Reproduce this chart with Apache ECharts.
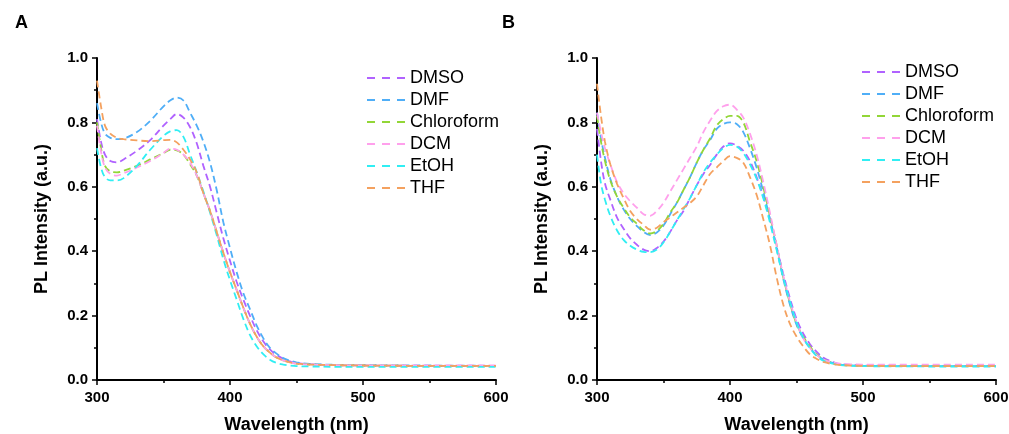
<!DOCTYPE html>
<html><head><meta charset="utf-8">
<script src="https://cdn.jsdelivr.net/npm/echarts@6/dist/echarts.min.js"></script>
<style>html,body{margin:0;padding:0;background:#fff}#c{width:1009px;height:434px}</style>
</head><body><div id="c"></div>
<script>
const seriesNames = ['DMSO','DMF','Chloroform','DCM','EtOH','THF'];
const xTicks = [300,400,500,600];
const yTicks = ['0.0','0.2','0.4','0.6','0.8','1.0'];

// Panel A
const wlA = [300,303,306,310,315,320,330,340,350,355,360,365,370,375,380,385,390,395,400,405,410,415,420,425,430,435,440,445,450,460,480,500,550,600];
const dmsoA  = [0.81,0.74,0.70,0.68,0.676,0.685,0.712,0.745,0.79,0.81,0.826,0.815,0.785,0.735,0.665,0.60,0.52,0.44,0.37,0.305,0.25,0.20,0.155,0.12,0.095,0.078,0.066,0.058,0.053,0.049,0.046,0.045,0.044,0.044];
const dmfA   = [0.86,0.80,0.765,0.752,0.748,0.75,0.77,0.805,0.85,0.868,0.877,0.868,0.83,0.79,0.74,0.675,0.59,0.49,0.41,0.335,0.27,0.22,0.17,0.13,0.10,0.082,0.068,0.06,0.055,0.05,0.047,0.046,0.045,0.044];
const chloroA= [0.80,0.72,0.665,0.648,0.645,0.65,0.665,0.685,0.705,0.715,0.713,0.70,0.67,0.635,0.58,0.525,0.46,0.395,0.335,0.28,0.225,0.175,0.135,0.105,0.085,0.07,0.061,0.055,0.051,0.048,0.046,0.045,0.044,0.044];
const dcmA   = [0.79,0.71,0.66,0.64,0.635,0.642,0.66,0.68,0.705,0.718,0.715,0.70,0.675,0.635,0.58,0.525,0.46,0.395,0.335,0.28,0.225,0.175,0.135,0.105,0.085,0.07,0.061,0.055,0.051,0.048,0.046,0.045,0.045,0.045];
const etohA  = [0.72,0.66,0.63,0.62,0.62,0.627,0.665,0.715,0.758,0.772,0.776,0.755,0.70,0.645,0.585,0.52,0.45,0.375,0.31,0.25,0.19,0.14,0.105,0.08,0.063,0.053,0.048,0.045,0.043,0.042,0.041,0.041,0.041,0.041];
const thfA   = [0.93,0.85,0.79,0.765,0.752,0.748,0.744,0.742,0.745,0.746,0.738,0.715,0.685,0.645,0.58,0.525,0.46,0.395,0.335,0.28,0.225,0.175,0.135,0.105,0.085,0.07,0.061,0.055,0.051,0.048,0.046,0.045,0.044,0.044];

// Panel B
const wlB = [300,303,306,310,315,320,325,330,335,340,345,350,355,360,365,370,375,380,385,390,395,400,405,410,415,420,425,430,435,440,445,450,455,460,465,470,480,490,500,550,600];
const dmsoB  = [0.78,0.68,0.61,0.56,0.505,0.47,0.44,0.42,0.405,0.40,0.41,0.43,0.46,0.495,0.525,0.565,0.605,0.64,0.668,0.70,0.725,0.735,0.728,0.712,0.68,0.63,0.57,0.50,0.415,0.33,0.255,0.19,0.145,0.112,0.088,0.07,0.052,0.047,0.045,0.044,0.044];
const dmfB   = [0.83,0.75,0.69,0.625,0.57,0.53,0.50,0.478,0.46,0.45,0.458,0.48,0.515,0.55,0.59,0.63,0.675,0.715,0.745,0.78,0.795,0.80,0.795,0.77,0.72,0.66,0.585,0.50,0.41,0.315,0.235,0.172,0.13,0.10,0.078,0.064,0.05,0.046,0.044,0.043,0.043];
const chloroB= [0.82,0.74,0.68,0.62,0.57,0.535,0.505,0.485,0.465,0.455,0.463,0.485,0.52,0.55,0.59,0.63,0.675,0.715,0.75,0.79,0.81,0.82,0.82,0.80,0.74,0.68,0.60,0.51,0.42,0.32,0.24,0.175,0.135,0.105,0.08,0.065,0.05,0.046,0.045,0.044,0.044];
const dcmB   = [0.83,0.77,0.72,0.67,0.615,0.58,0.555,0.535,0.515,0.51,0.525,0.55,0.585,0.62,0.655,0.69,0.725,0.77,0.805,0.835,0.85,0.855,0.84,0.815,0.765,0.70,0.615,0.52,0.42,0.325,0.245,0.18,0.13,0.10,0.078,0.064,0.052,0.049,0.048,0.048,0.048];
const etohB  = [0.70,0.61,0.56,0.51,0.465,0.435,0.417,0.405,0.398,0.397,0.405,0.427,0.46,0.495,0.53,0.565,0.605,0.645,0.675,0.70,0.72,0.73,0.725,0.705,0.67,0.625,0.565,0.49,0.405,0.32,0.245,0.18,0.132,0.10,0.075,0.06,0.048,0.044,0.043,0.042,0.042];
const thfB   = [0.92,0.82,0.74,0.67,0.61,0.565,0.525,0.50,0.482,0.467,0.473,0.49,0.505,0.52,0.535,0.55,0.57,0.605,0.64,0.66,0.68,0.695,0.69,0.675,0.63,0.575,0.50,0.42,0.32,0.235,0.175,0.135,0.105,0.08,0.066,0.056,0.048,0.045,0.044,0.043,0.043];

const colors = ['#B062FF','#4FAEF7','#92D637','#FFA0EC','#30EEF3','#F4A15F'];
const dataA = [dmsoA,dmfA,chloroA,dcmA,etohA,thfA];
const dataB = [dmsoB,dmfB,chloroB,dcmB,etohB,thfB];

const FONT = 'Liberation Sans, Arial, sans-serif';
function zip(xs, ys){ return xs.map((x,i)=>[x, ys[i]]); }

function xAxisDef(gi){
  return {
    type:'value', gridIndex:gi, min:xTicks[0], max:xTicks[xTicks.length-1], interval:100,
    name:'Wavelength (nm)', nameLocation:'middle', nameGap:36,
    nameTextStyle:{fontFamily:FONT, fontWeight:'bold', fontSize:18, color:'#000'},
    axisLine:{show:true, onZero:false, lineStyle:{color:'#000', width:2}},
    axisTick:{show:true, inside:false, length:5, lineStyle:{color:'#000', width:1.5}},
    minorTick:{show:true, splitNumber:2, length:3, lineStyle:{color:'#000', width:1.5}},
    axisLabel:{fontFamily:FONT, fontWeight:'bold', fontSize:15, color:'#000', margin:10},
    splitLine:{show:false}
  };
}
function yAxisDef(gi){
  return {
    type:'value', gridIndex:gi, min:0, max:1, interval:0.2,
    name:'PL Intensity (a.u.)', nameLocation:'middle', nameGap:46, nameRotate:90,
    nameTextStyle:{fontFamily:FONT, fontWeight:'bold', fontSize:18, color:'#000'},
    axisLine:{show:true, onZero:false, lineStyle:{color:'#000', width:2}},
    axisTick:{show:true, inside:false, length:5, lineStyle:{color:'#000', width:1.5}},
    minorTick:{show:true, splitNumber:2, length:3, lineStyle:{color:'#000', width:1.5}},
    axisLabel:{fontFamily:FONT, fontWeight:'bold', fontSize:15, color:'#000', margin:9,
      formatter:(v)=>yTicks[Math.round(v/0.2)]},
    splitLine:{show:false}
  };
}

const series = [];
[dataA, dataB].forEach((set, gi)=>{
  const wl = gi===0 ? wlA : wlB;
  set.forEach((ys, si)=>{
    series.push({
      name: seriesNames[si] + (gi===1 ? ' ' : ''),
      type:'line', xAxisIndex:gi, yAxisIndex:gi,
      data: zip(wl, ys), showSymbol:false, symbol:'none', smooth:0.35,
      lineStyle:{color:colors[si], width:1.8, type:[7,4]},
      itemStyle:{color:colors[si]},
      z: 2, silent:true, animation:false
    });
  });
});

function legendDef(left, top, suffix){
  return {
    orient:'vertical', left:left, top:top, itemWidth:38, itemHeight:18, itemGap:4,
    icon:'path://M0,0 L8,0 L8,2 L0,2 Z M15,0 L23,0 L23,2 L15,2 Z M30,0 L38,0 L38,2 L30,2 Z',
    data: seriesNames.map((n,i)=>({name:n+suffix, itemStyle:{color:colors[i]}})),
    textStyle:{fontFamily:FONT, fontSize:18, color:'#000', lineHeight:18},
    formatter:(n)=>n.trim(),
    selectedMode:false
  };
}

const chart = echarts.init(document.getElementById('c'), null, {renderer:'canvas'});
chart.setOption({
  backgroundColor:'#fff',
  animation:false,
  title:[
    {text:'A', left:10, top:9, textStyle:{fontFamily:FONT, fontWeight:'bold', fontSize:18, color:'#000'}},
    {text:'B', left:497, top:9, textStyle:{fontFamily:FONT, fontWeight:'bold', fontSize:18, color:'#000'}}
  ],
  grid:[
    {left:97, right:513, top:58, bottom:54, outerBoundsMode:'none', containLabel:false},
    {left:597, right:13, top:58, bottom:54, outerBoundsMode:'none', containLabel:false}
  ],
  xAxis:[xAxisDef(0), xAxisDef(1)],
  yAxis:[yAxisDef(0), yAxisDef(1)],
  legend:[legendDef(362, 64, ''), legendDef(857, 58, ' ')],
  series: series
});
</script></body></html>
